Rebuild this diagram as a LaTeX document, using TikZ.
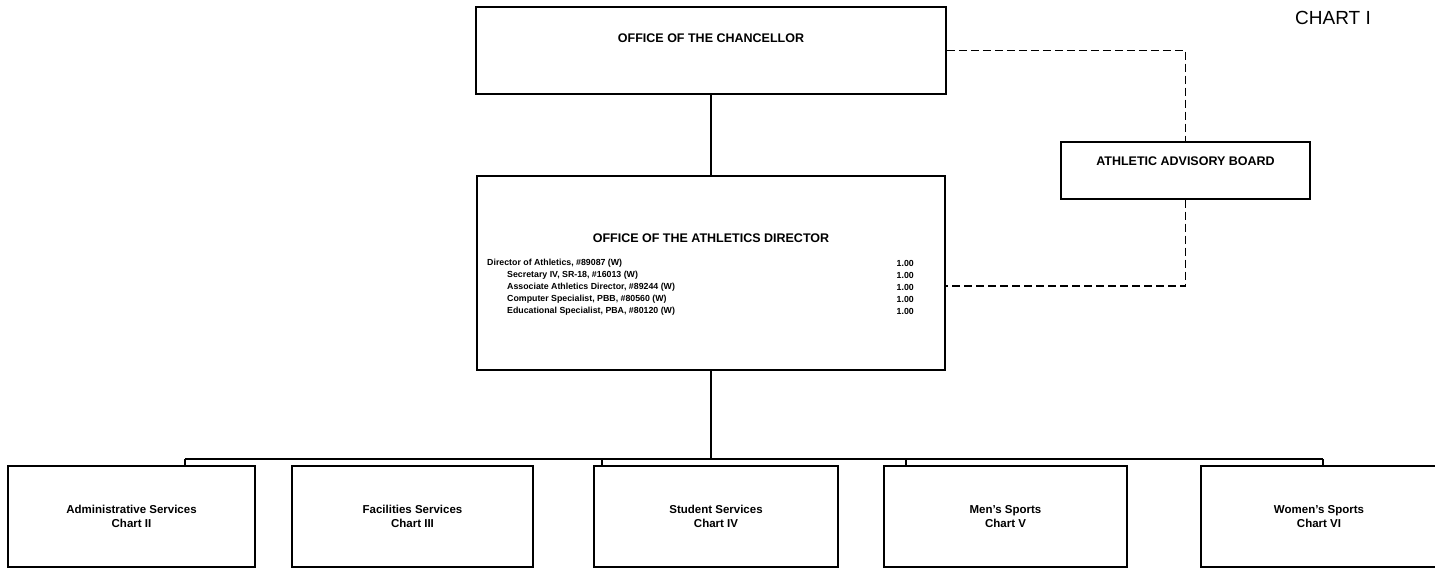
\documentclass[tikz,border=0pt]{standalone}
\usepackage{fontspec}
\setmainfont{Liberation Sans}
\usetikzlibrary{positioning}

\tikzset{
	boxStyle/.style={draw, line width=1.5pt, inner sep=0pt},
	officeBox/.style={boxStyle, minimum width=470pt, minimum height=87pt},
	unitBox/.style={boxStyle, minimum height=101pt, align=center, font=\bfseries\fontsize{11.5}{13.5}\selectfont},
	headText/.style={inner sep=0pt, font=\bfseries\fontsize{12.5}{14}\selectfont},
	rowText/.style={inner sep=0pt, anchor=west, font=\bfseries\fontsize{8.8}{10}\selectfont},
	fteText/.style={inner sep=0pt, anchor=east, font=\bfseries\fontsize{8.8}{10}\selectfont},
	lineStyle/.style={line width=1.5pt},
	dashStyle/.style={line width=1.6pt, dash pattern=on 8pt off 4pt},
}

\begin{document}
\begin{tikzpicture}[x=1pt, y=-1pt]
	\useasboundingbox (0,0) rectangle (1435,569);
	
	\node[font=\fontsize{19}{22}\selectfont] (chartno) at (1333,18) {CHART I};
	
	% offices
	\node[officeBox] (chanc) at (711,50.5) {};
	\node[headText] (chancTitle) at ([yshift=-32pt]chanc.north) {OFFICE OF THE CHANCELLOR};
	
	\node[boxStyle, minimum width=468pt, minimum height=194pt] (dir) at (711,273) {};
	\node[headText] (dirTitle) at ([yshift=-63pt]dir.north) {OFFICE OF THE ATHLETICS DIRECTOR};
	
	\node[boxStyle, minimum width=249pt, minimum height=57pt] (adv) at (1185.5,170.5) {};
	\node[headText] (advTitle) at ([yshift=-20pt]adv.north) {ATHLETIC ADVISORY BOARD};
	
	% positions in the director's office
	\node[rowText] (row0) at (487,263) {Director of Athletics, \#89087 (W)};
	\foreach \txt [count=\i] in {{Secretary IV, SR-18, \#16013 (W)},
		{Associate Athletics Director, \#89244 (W)},
		{Computer Specialist, PBB, \#80560 (W)},
		{Educational Specialist, PBA, \#80120 (W)}}
	\node[rowText] (row\i) at (507,263+12*\i) {\txt};
	\foreach \i in {0,...,4}
	\node[fteText] (fte\i) at (914,263+12*\i) {1.00};
	
	% units
	\node[unitBox, minimum width=247pt] (adm) at (131.5,516.5) {Administrative Services\\Chart II};
	\node[unitBox, minimum width=241pt] (fac) at (412.5,516.5) {Facilities Services\\Chart III};
	\node[unitBox, minimum width=244pt] (stu) at (716,516.5) {Student Services\\Chart IV};
	\node[unitBox, minimum width=243pt] (men) at (1005.5,516.5) {Men's Sports\\Chart V};
	\node[unitBox, minimum width=236pt] (wom) at (1319,516.5) {Women's Sports\\Chart VI};
	
	\coordinate (tap1) at (185,459);
	\coordinate (tap3) at (602,459);
	\coordinate (tap4) at (906,459);
	\coordinate (tap5) at (1323,459);
	
	% lines
	\draw[lineStyle] (chanc.south) -- (dir.north);
	\draw[lineStyle] (dir.south) -- (dir.south |- tap1);
	\draw[lineStyle] (tap1) -- (tap5);
	\draw[lineStyle] (tap1) -- (tap1 |- adm.north);
	\draw[lineStyle] (tap3) -- (tap3 |- stu.north);
	\draw[lineStyle] (tap4) -- (tap4 |- men.north);
	\draw[lineStyle] (tap5) -- (tap5 |- wom.north);
	
	\draw[dashStyle] (chanc.east) -| (adv.north);
	\draw[dashStyle] (adv.south) |- ([yshift=-13pt]dir.east);
\end{tikzpicture}
\end{document}
